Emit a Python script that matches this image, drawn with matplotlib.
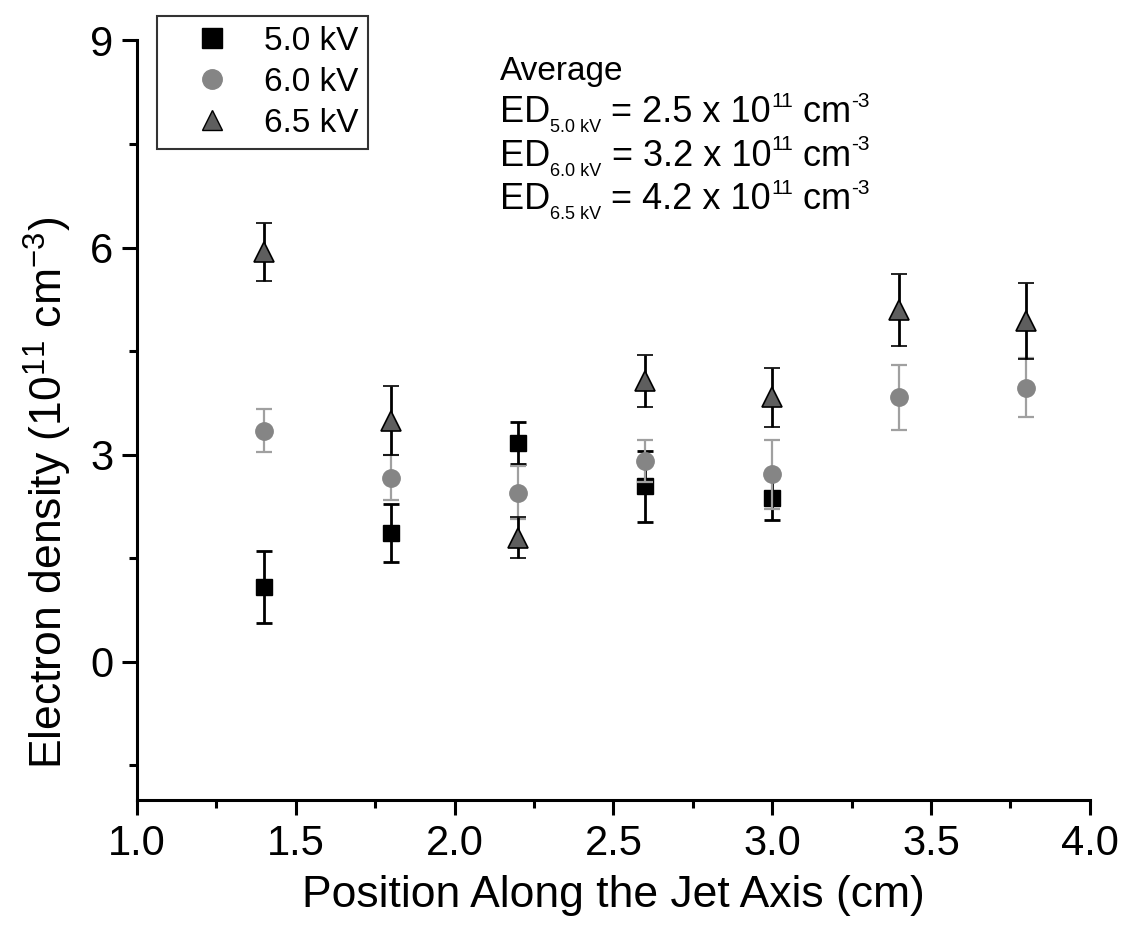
import matplotlib
matplotlib.use("Agg")
import matplotlib.pyplot as plt
from matplotlib.lines import Line2D
from matplotlib.transforms import IdentityTransform

plt.rcParams['font.family'] = ['Liberation Sans', 'DejaVu Sans']
plt.rcParams['mathtext.fontset'] = 'custom'
plt.rcParams['mathtext.rm'] = 'Liberation Sans'
plt.rcParams['mathtext.it'] = 'Liberation Sans:italic'
plt.rcParams['mathtext.bf'] = 'Liberation Sans:bold'

# Positions along the jet axis (cm)
pos_5kv = [1.4, 1.8, 2.2, 2.6, 3.0]
pos_6kv = [1.4, 1.8, 2.2, 2.6, 3.0, 3.4, 3.8]
pos_65kv = [1.4, 1.8, 2.2, 2.6, 3.0, 3.4, 3.8]

# Electron density (1e11 cm^-3) and error
ed_5kv = [1.09, 1.86, 3.17, 2.54, 2.38]
err_5kv = [0.52, 0.42, 0.31, 0.52, 0.32]
ed_6kv = [3.35, 2.67, 2.45, 2.91, 2.72, 3.83, 3.97]
err_6kv = [0.31, 0.32, 0.38, 0.30, 0.50, 0.47, 0.43]
ed_65kv = [5.93, 3.49, 1.80, 4.07, 3.83, 5.09, 4.94]
err_65kv = [0.42, 0.50, 0.30, 0.38, 0.43, 0.52, 0.55]

labels = ['5.0 kV', '6.0 kV', '6.5 kV']
avg_voltages = ['5.0 kV', '6.0 kV', '6.5 kV']
avg_values = ['2.5', '3.2', '4.2']
x_ticks = [1.0, 1.5, 2.0, 2.5, 3.0, 3.5, 4.0]
y_ticks = [0, 3, 6, 9]

W, H = 1127, 939
fig = plt.figure(figsize=(W / 100, H / 100), dpi=100)
ax = fig.add_axes([0.1216, 0.148, 0.8454, 0.809])

ax.errorbar(pos_5kv, ed_5kv, yerr=err_5kv, fmt='s', color='black',
            ms=12, mec='black', ecolor='black', elinewidth=2, capsize=6,
            capthick=2, zorder=3)
ax.errorbar(pos_6kv, ed_6kv, yerr=err_6kv, fmt='o', color='#858585',
            ms=12.5, mec='#858585', ecolor='#a0a0a0', elinewidth=1.6,
            capsize=6, capthick=1.6, zorder=4)
ax.errorbar(pos_65kv, ed_65kv, yerr=err_65kv, fmt='^', color='#5e5e5e',
            ms=15, mec='black', mew=1.2, ecolor='black', elinewidth=2,
            capsize=6, capthick=2, zorder=5)

ax.set_xlim(1.0, 4.0)
ax.set_ylim(-2, 9)
ax.set_xticks(x_ticks)
ax.set_xticklabels([f'{v:.1f}' for v in x_ticks])
ax.set_yticks(y_ticks)
ax.set_xticks([1.25, 1.75, 2.25, 2.75, 3.25, 3.75], minor=True)
ax.set_yticks([-1.5, 1.5, 4.5, 7.5], minor=True)

for side in ('top', 'right'):
    ax.spines[side].set_visible(False)
for side in ('left', 'bottom'):
    ax.spines[side].set_linewidth(2.2)

ax.tick_params(which='major', direction='out', length=11, width=2.2,
               labelsize=30, pad=6)
ax.tick_params(which='minor', direction='out', length=6, width=2.2)

ax.set_xlabel('Position Along the Jet Axis (cm)', fontsize=32, labelpad=8)
ax.set_ylabel('Electron density (10$^{11}$ cm$^{-3}$)', fontsize=32)
ax.yaxis.set_label_coords(-0.066, 0.405)

handles = [
    Line2D([], [], ls='none', marker='s', ms=14, color='black'),
    Line2D([], [], ls='none', marker='o', ms=14, color='#858585'),
    Line2D([], [], ls='none', marker='^', ms=15, color='#5e5e5e', mec='black'),
]
leg = ax.legend(handles, labels, loc='upper left',
                bbox_to_anchor=(0.021, 1.032), fontsize=24, frameon=True,
                fancybox=False, edgecolor='black', handlelength=2.7,
                handletextpad=0.2, borderpad=0.3, labelspacing=0.3,
                borderaxespad=0)
leg.get_frame().set_linewidth(1.5)

# Averages block: main text with small subscripts and superscripts,
# laid out piece by piece in pixel space.
renderer = fig.canvas.get_renderer()


def text_run(x, y, pieces):
    for s, size, dy in pieces:
        t = fig.text(x, y + dy, s, fontsize=size, transform=IdentityTransform(),
                     va='baseline', ha='left')
        x = t.get_window_extent(renderer).x1


main_fs = 26
text_run(500, H - 80, [('Average', 24, 0)])
for i, (volt, val) in enumerate(zip(avg_voltages, avg_values)):
    base = H - (122 + 43.5 * i)
    text_run(500, base, [
        ('ED', main_fs, 0),
        (volt, 13, -10),
        (f' = {val} x 10', main_fs, 0),
        ('11', 15, 15),
        (' cm', main_fs, 0),
        ('-3', 15, 15),
    ])

fig.savefig('out.png', dpi=100)
